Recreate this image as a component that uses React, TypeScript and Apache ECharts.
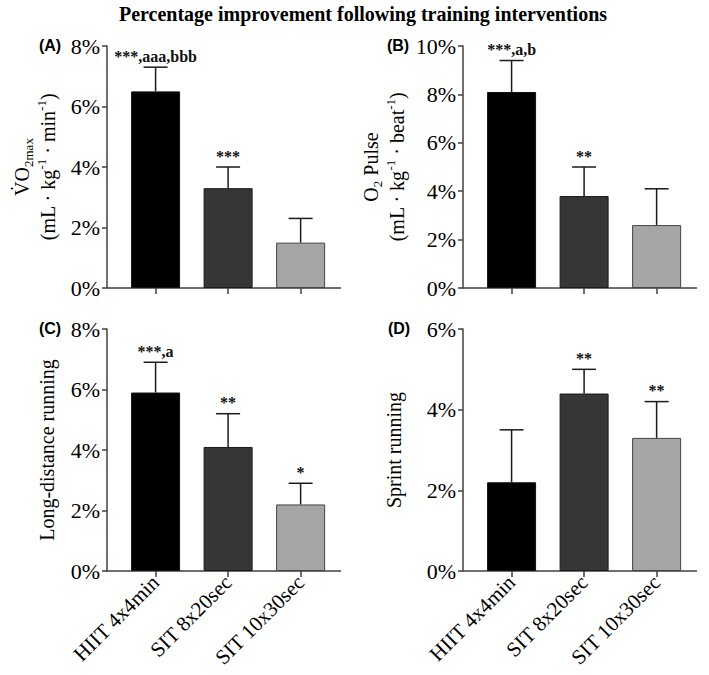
import React, { useEffect, useRef } from "react";
import * as echarts from "echarts";

const categories = ["HIIT 4x4min", "SIT 8x20sec", "SIT 10x30sec"];
const barColors = ["#000000", "#363636", "#a6a6a6"];
const barBorders = ["#111111", "#1a1a1a", "#444444"];

const vo2Mean = [6.5, 3.3, 1.5];
const vo2Upper = [7.3, 4.0, 2.3];
const vo2Sig = ["***,aaa,bbb", "***", ""];

const o2Mean = [8.1, 3.8, 2.6];
const o2Upper = [9.4, 5.0, 4.1];
const o2Sig = ["***,a,b", "**", ""];

const longMean = [5.9, 4.1, 2.2];
const longUpper = [6.9, 5.2, 2.9];
const longSig = ["***,a", "**", "*"];

const sprintMean = [2.2, 4.4, 3.3];
const sprintUpper = [3.5, 5.0, 4.2];
const sprintSig = ["", "**", "**"];

const yMaxes = [8, 10, 8, 6];
const panelLetters = ["(A)", "(B)", "(C)", "(D)"];
const titleText = "Percentage improvement following training interventions";

const SERIF = "Liberation Serif";
const SANS = "Liberation Sans";

const nameRich = {
  b: { fontSize: 20, fontFamily: SERIF, color: "#000", lineHeight: 26, verticalAlign: "middle" as const },
  sub: { fontSize: 13, fontFamily: SERIF, color: "#000", lineHeight: 13, verticalAlign: "bottom" as const },
  sup: { fontSize: 13, fontFamily: SERIF, color: "#000", lineHeight: 13, verticalAlign: "top" as const },
};

const yNames = [
  "{b|V\u0307O}{sub|2max}\n{b|(mL · kg}{sup|-1}{b| · min}{sup|-1}{b|)}",
  "{b|O}{sub|2}{b| Pulse}\n{b|(mL · kg}{sup|-1}{b| · beat}{sup|-1}{b|)}",
  "{b|Long-distance running}",
  "{b|Sprint running}",
];
const nameGaps = [46, 53, 47, 56];

const grids = [
  { left: 107, top: 46, width: 233.5, height: 242 },
  { left: 463, top: 46, width: 233.5, height: 242 },
  { left: 107, top: 329, width: 233.5, height: 242 },
  { left: 463, top: 329, width: 233.5, height: 242 },
];
const letterPos = [
  [50, 45],
  [398, 45],
  [50, 328],
  [399, 328],
];

export default function App() {
  const ref = useRef<HTMLDivElement>(null);
  useEffect(() => {
    if (!ref.current) return;
    const chart = echarts.init(ref.current, null, { renderer: "svg" });
    const means = [vo2Mean, o2Mean, longMean, sprintMean];
    const uppers = [vo2Upper, o2Upper, longUpper, sprintUpper];
    const sigs = [vo2Sig, o2Sig, longSig, sprintSig];

    const axisLineStyle = { color: "#404040", width: 1.5 };

    const xAxes = grids.map((_, i) => ({
      type: "value" as const,
      gridIndex: i,
      min: -0.67,
      max: 2.55,
      splitLine: { show: false },
      axisLine: { show: true, onZero: false, lineStyle: axisLineStyle },
      axisTick: { show: true, customValues: [0, 1, 2], length: 6, lineStyle: axisLineStyle },
      axisLabel: {
        show: i >= 2,
        customValues: [0, 1, 2],
        formatter: (v: number) => categories[Math.round(v)] ?? "",
        rotate: 45,
        fontSize: 21,
        fontFamily: SERIF,
        color: "#000",
        margin: 8,
      },
    }));

    const yAxes = grids.map((_, i) => ({
      type: "value" as const,
      gridIndex: i,
      min: 0,
      max: yMaxes[i],
      interval: 2,
      splitLine: { show: false },
      axisLine: { show: true, onZero: false, lineStyle: axisLineStyle },
      axisTick: { show: true, length: 5, lineStyle: axisLineStyle },
      axisLabel: {
        formatter: (v: number) => v + "%",
        fontSize: 22,
        fontFamily: SERIF,
        color: "#000",
        margin: 7,
      },
      name: yNames[i],
      nameLocation: "middle" as const,
      nameRotate: 90,
      nameGap: nameGaps[i],
      nameTextStyle: { fontSize: 20, fontFamily: SERIF, color: "#000", rich: nameRich },
    }));

    const series: any[] = [];
    grids.forEach((_, i) => {
      series.push({
        type: "bar",
        xAxisIndex: i,
        yAxisIndex: i,
        barWidth: 49,
        data: means[i].map((v, k) => ({
          value: [k, v],
          itemStyle: { color: barColors[k], borderColor: barBorders[k], borderWidth: 1 },
        })),
        z: 2,
      });
      series.push({
        type: "custom",
        xAxisIndex: i,
        yAxisIndex: i,
        z: 3,
        data: means[i].map((v, k) => [k, v, uppers[i][k]]),
        renderItem: (params: any, api: any) => {
          const x = api.value(0);
          const m = api.value(1);
          const u = api.value(2);
          const p0 = api.coord([x, m]);
          const p1 = api.coord([x, u]);
          const half = 12;
          const st = { stroke: "#1a1a1a", lineWidth: 1.5 };
          return {
            type: "group",
            children: [
              { type: "line", shape: { x1: p0[0], y1: p0[1], x2: p1[0], y2: p1[1] }, style: st },
              { type: "line", shape: { x1: p1[0] - half, y1: p1[1], x2: p1[0] + half, y2: p1[1] }, style: st },
              {
                type: "text",
                x: p1[0],
                y: p1[1] - 3,
                style: {
                  text: sigs[i][params.dataIndex],
                  align: "center",
                  verticalAlign: "bottom",
                  fontSize: 16,
                  fontWeight: "bold",
                  fontFamily: SERIF,
                  fill: "#111",
                },
              },
            ],
          };
        },
      });
    });

    const graphic: any[] = [
      {
        type: "text",
        x: 363,
        y: 14,
        style: {
          text: titleText,
          align: "center",
          verticalAlign: "middle",
          fontSize: 20,
          fontWeight: "bold",
          fontFamily: SERIF,
          fill: "#000",
        },
      },
      ...panelLetters.map((t, i) => ({
        type: "text",
        x: letterPos[i][0],
        y: letterPos[i][1],
        style: {
          text: t,
          align: "center",
          verticalAlign: "middle",
          fontSize: 16,
          fontWeight: "bold",
          fontFamily: SANS,
          fill: "#000",
        },
      })),
    ];

    chart.setOption({
      animation: false,
      backgroundColor: "#ffffff",
      grid: grids.map((g) => ({ ...g, containLabel: false })),
      xAxis: xAxes,
      yAxis: yAxes,
      series,
      graphic,
    });
    return () => chart.dispose();
  }, []);
  return (
    <div
      ref={ref}
      style={{ position: "absolute", left: 0, top: 0, width: 709, height: 675, background: "#fff" }}
    />
  );
}
